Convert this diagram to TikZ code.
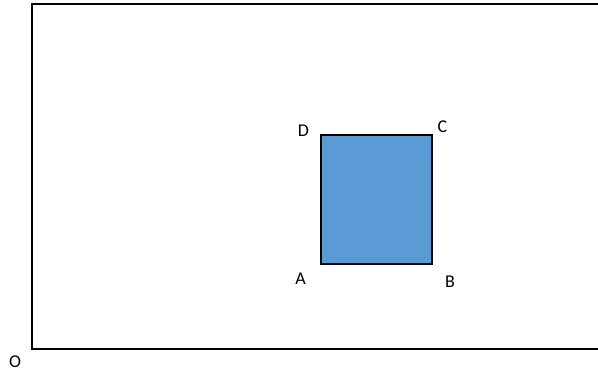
\documentclass[tikz,border=0pt]{standalone}
\usepackage{fontspec}
\setmainfont{Carlito}
\definecolor{boxblue}{HTML}{5B9BD5}
\begin{document}
\begin{tikzpicture}[x=1pt,y=-1pt,
  frame/.style={line width=2pt,draw=black},
  lbl/.style={font=\fontsize{18}{20}\selectfont,inner sep=0pt}]
\useasboundingbox (0,0) rectangle (598,374);
\coordinate (tr) at (600,4);
\coordinate (tl) at (31.5,4);
\coordinate (bl) at (31.5,349.5);
\coordinate (br) at (600,349.5);
\draw[frame,line cap=rect] (tr) -- (tl) -- (bl) -- (br);
\node[draw=black,line width=2pt,fill=boxblue,minimum width=111pt,minimum height=129pt,inner sep=0pt,outer sep=0pt,anchor=north west] (sq) at (320.5,135.5) {};
\node[lbl] (D) at (303.5,130.5) {D};
\node[lbl] (C) at (442.5,126.5) {C};
\node[lbl] (A) at (300.5,279) {A};
\node[lbl] (B) at (450,281.5) {B};
\node[lbl] (O) at (15,361.5) {O};
\end{tikzpicture}
\end{document}
